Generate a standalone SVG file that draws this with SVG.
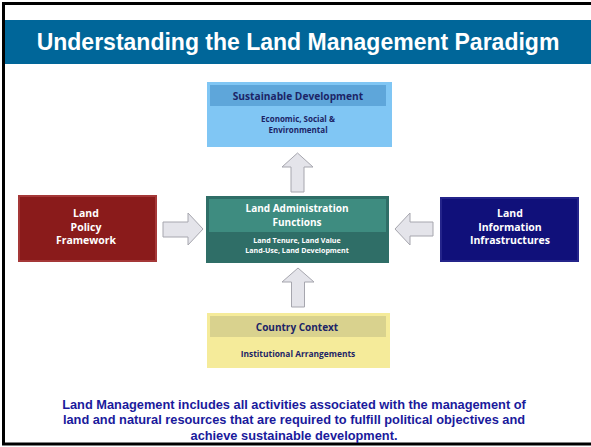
<svg xmlns="http://www.w3.org/2000/svg" width="591" height="447" viewBox="0 0 591 447">
<style>
.h{font-family:"Open Sans","Noto Sans",sans-serif;font-weight:bold;text-anchor:middle}
.ft{font-family:"Liberation Sans",Arial,sans-serif;font-weight:bold;text-anchor:middle;fill:#1a1a9c;font-size:12.8px}
.arr{fill:#e4e4ea;stroke:#a6a6ae;stroke-width:1}
.navy{fill:#1c2466}
.w{fill:#ffffff}
</style>
<rect x="0" y="0" width="591" height="447" fill="#ffffff"/>
<rect x="3.5" y="3.5" width="700" height="440.5" fill="none" stroke="#000000" stroke-width="3"/>
<rect x="5" y="20" width="586" height="44" fill="#006699"/>
<text x="298" y="50" font-family="'Liberation Sans',Arial,sans-serif" font-weight="bold" font-size="23" fill="#ffffff" text-anchor="middle">Understanding the Land Management Paradigm</text>

<g id="connectors">
<polygon class="arr" points="297.5,153 313,167 304,167 304,192 291,192 291,167 282,167"/>
<polygon class="arr" points="298,268 314,282 304.5,282 304.5,307 291.5,307 291.5,282 282,282"/>
<polygon class="arr" points="163,222 188,222 188,213 203,229 188,245 188,237 163,237"/>
<polygon class="arr" points="395,229 410,213 410,222 433,222 433,236 410,236 410,245"/>
</g>

<g id="sustainable">
<rect x="207" y="82" width="185" height="65" fill="#80c6f4"/>
<rect x="210" y="85" width="176" height="21" fill="#5ea6da"/>
<text class="h navy" x="298" y="100" font-size="10.2">Sustainable Development</text>
<text class="h navy" x="298" y="122" font-size="8">Economic, Social &amp;</text>
<text class="h navy" x="298" y="133" font-size="8">Environmental</text>
</g>

<g id="administration">
<rect x="206" y="196" width="183" height="67" fill="#2f6e67"/>
<rect x="209" y="199" width="177" height="33" fill="#3e8c80"/>
<text class="h w" x="297" y="212" font-size="10">Land Administration</text>
<text class="h w" x="297" y="225.5" font-size="10">Functions</text>
<text class="h w" x="297" y="243" font-size="7.1">Land Tenure, Land Value</text>
<text class="h w" x="297" y="252.5" font-size="7.1">Land-Use, Land Development</text>
</g>

<g id="country">
<rect x="207" y="313" width="183" height="55" fill="#f5eb9a"/>
<rect x="210" y="316" width="176" height="21" fill="#d9d28e"/>
<text class="h navy" x="297" y="331" font-size="10">Country Context</text>
<text class="h navy" x="298" y="357" font-size="8.4">Institutional Arrangements</text>
</g>

<g id="policy">
<rect x="19" y="196" width="137" height="65" fill="#8a1b1b" stroke="#a53838" stroke-width="2"/>
<text class="h w" x="86" y="217" font-size="10.5">Land</text>
<text class="h w" x="86" y="230.5" font-size="10.5">Policy</text>
<text class="h w" x="86" y="244" font-size="10.5">Framework</text>
</g>

<g id="information">
<rect x="441" y="198" width="137" height="63" fill="#10107a" stroke="#24248a" stroke-width="2"/>
<text class="h w" x="510" y="217" font-size="10.5">Land</text>
<text class="h w" x="510" y="230.5" font-size="10.5">Information</text>
<text class="h w" x="510" y="244" font-size="10.5">Infrastructures</text>
</g>

<g id="footer">
<text class="ft" x="294" y="408.5">Land Management includes all activities associated with the management of</text>
<text class="ft" x="294" y="424">land and natural resources that are required to fulfill political objectives and</text>
<text class="ft" x="294" y="439.5">achieve sustainable development.</text>
</g>
</svg>
